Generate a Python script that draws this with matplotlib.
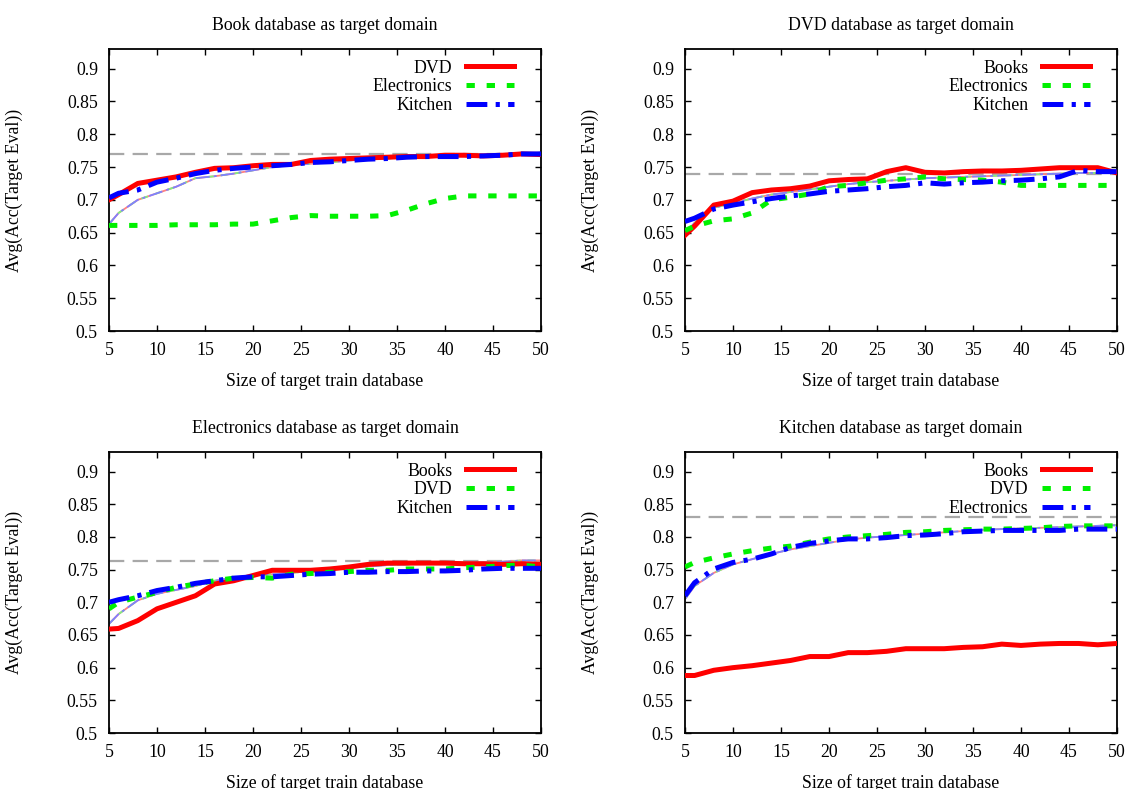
import matplotlib
matplotlib.use("Agg")
import matplotlib.pyplot as plt

plt.rcParams['font.family'] = ['Liberation Serif', 'DejaVu Serif']
plt.rcParams['lines.scale_dashes'] = False

x = [5, 6, 8, 10, 12, 14, 16, 18, 20, 22, 24, 26, 28, 30, 32, 34, 36, 38, 40, 42, 44, 46, 48, 50]

# ---- Book database as target domain ----
book_titles = "Book database as target domain"
book_labels = ["DVD", "Electronics", "Kitchen"]
book_ref = 0.77
book_s1 = [0.700, 0.708, 0.725, 0.730, 0.735, 0.742, 0.748, 0.749, 0.752, 0.754, 0.754, 0.760,
           0.762, 0.763, 0.764, 0.765, 0.766, 0.766, 0.768, 0.768, 0.767, 0.768, 0.770, 0.769]
book_s2 = [0.661, 0.661, 0.661, 0.661, 0.662, 0.662, 0.662, 0.663, 0.663, 0.668, 0.673, 0.676,
           0.675, 0.675, 0.675, 0.676, 0.684, 0.694, 0.702, 0.706, 0.706, 0.706, 0.706, 0.706]
book_s3 = [0.703, 0.710, 0.715, 0.727, 0.733, 0.740, 0.745, 0.748, 0.750, 0.752, 0.754, 0.757,
           0.758, 0.760, 0.762, 0.763, 0.765, 0.766, 0.766, 0.766, 0.767, 0.768, 0.770, 0.770]
book_base = [0.663, 0.680, 0.700, 0.710, 0.720, 0.733, 0.736, 0.740, 0.745, 0.750, 0.753, 0.755,
             0.757, 0.760, 0.762, 0.763, 0.765, 0.766, 0.767, 0.768, 0.768, 0.769, 0.771, 0.772]

# ---- DVD database as target domain ----
dvd_title = "DVD database as target domain"
dvd_labels = ["Books", "Electronics", "Kitchen"]
dvd_ref = 0.74
dvd_s1 = [0.646, 0.660, 0.692, 0.698, 0.711, 0.715, 0.717, 0.721, 0.729, 0.731, 0.732, 0.743,
          0.749, 0.742, 0.741, 0.743, 0.744, 0.744, 0.745, 0.747, 0.749, 0.749, 0.749, 0.741]
dvd_s2 = [0.653, 0.660, 0.668, 0.671, 0.680, 0.700, 0.704, 0.709, 0.720, 0.722, 0.726, 0.730,
          0.732, 0.735, 0.732, 0.731, 0.730, 0.727, 0.722, 0.722, 0.722, 0.722, 0.722, 0.722]
dvd_s3 = [0.667, 0.672, 0.686, 0.692, 0.697, 0.702, 0.706, 0.709, 0.713, 0.715, 0.717, 0.720,
          0.722, 0.726, 0.724, 0.726, 0.727, 0.729, 0.730, 0.732, 0.735, 0.745, 0.743, 0.743]
dvd_base = [0.648, 0.665, 0.688, 0.695, 0.702, 0.708, 0.712, 0.716, 0.720, 0.724, 0.727, 0.729,
            0.731, 0.733, 0.734, 0.735, 0.736, 0.737, 0.738, 0.739, 0.740, 0.741, 0.741, 0.742]

# ---- Electronics database as target domain ----
elec_title = "Electronics database as target domain"
elec_labels = ["Books", "DVD", "Kitchen"]
elec_ref = 0.763
elec_s1 = [0.659, 0.660, 0.672, 0.690, 0.700, 0.710, 0.728, 0.733, 0.741, 0.749, 0.749, 0.749,
           0.751, 0.754, 0.758, 0.760, 0.760, 0.760, 0.760, 0.759, 0.759, 0.758, 0.759, 0.758]
elec_s2 = [0.690, 0.700, 0.708, 0.715, 0.723, 0.728, 0.733, 0.737, 0.738, 0.737, 0.743, 0.744,
           0.746, 0.747, 0.749, 0.749, 0.751, 0.751, 0.751, 0.753, 0.754, 0.756, 0.757, 0.754]
elec_s3 = [0.700, 0.704, 0.710, 0.718, 0.723, 0.729, 0.733, 0.737, 0.739, 0.739, 0.741, 0.743,
           0.744, 0.746, 0.746, 0.747, 0.747, 0.748, 0.748, 0.749, 0.751, 0.752, 0.752, 0.752]
elec_base = [0.667, 0.682, 0.703, 0.713, 0.719, 0.725, 0.733, 0.738, 0.741, 0.743, 0.745, 0.748,
             0.751, 0.753, 0.755, 0.757, 0.758, 0.760, 0.760, 0.761, 0.761, 0.762, 0.764, 0.764]

# ---- Kitchen database as target domain ----
kit_title = "Kitchen database as target domain"
kit_labels = ["Books", "DVD", "Electronics"]
kit_ref = 0.83
kit_s1 = [0.588, 0.588, 0.596, 0.600, 0.603, 0.607, 0.611, 0.617, 0.617, 0.623, 0.623, 0.625,
          0.629, 0.629, 0.629, 0.631, 0.632, 0.636, 0.634, 0.636, 0.637, 0.637, 0.635, 0.637]
kit_s2 = [0.754, 0.761, 0.768, 0.774, 0.779, 0.783, 0.786, 0.792, 0.797, 0.800, 0.802, 0.804,
          0.807, 0.808, 0.810, 0.811, 0.812, 0.812, 0.813, 0.814, 0.816, 0.817, 0.817, 0.817]
kit_s3 = [0.710, 0.730, 0.751, 0.761, 0.766, 0.774, 0.784, 0.790, 0.794, 0.797, 0.797, 0.799,
          0.802, 0.803, 0.805, 0.808, 0.809, 0.810, 0.810, 0.810, 0.810, 0.812, 0.812, 0.812]
kit_base = [0.705, 0.725, 0.745, 0.758, 0.766, 0.774, 0.781, 0.786, 0.791, 0.796, 0.799, 0.801,
            0.803, 0.805, 0.807, 0.809, 0.811, 0.812, 0.813, 0.814, 0.815, 0.816, 0.817, 0.818]

xticks = [5, 10, 15, 20, 25, 30, 35, 40, 45, 50]
yticks = [0.5, 0.55, 0.6, 0.65, 0.7, 0.75, 0.8, 0.85, 0.9]
ytick_labels = ["0.5", "0.55", "0.6", "0.65", "0.7", "0.75", "0.8", "0.85", "0.9"]
xlabel = "Size of target train database"
ylabel = "Avg(Acc(Target Eval))"

panels = [
    (book_titles, book_labels, book_ref, book_s1, book_s2, book_s3, book_base),
    (dvd_title, dvd_labels, dvd_ref, dvd_s1, dvd_s2, dvd_s3, dvd_base),
    (elec_title, elec_labels, elec_ref, elec_s1, elec_s2, elec_s3, elec_base),
    (kit_title, kit_labels, kit_ref, kit_s1, kit_s2, kit_s3, kit_base),
]

W, H = 1130, 789
fig = plt.figure(figsize=(W / 100, H / 100), dpi=100)
boxes = [(109, 49, 541, 331), (685, 49, 1117, 331), (109, 452, 541, 733), (685, 452, 1117, 733)]

dash_green = (0, (6.0, 8.5))
dash_blue = (0, (15.0, 6.0, 3.0, 6.0))
FS = 12.8

for (title, labels, ref, s1, s2, s3, base), (l, t, r, b) in zip(panels, boxes):
    ax = fig.add_axes([l / W, 1 - b / H, (r - l) / W, (b - t) / H])
    ax.axhline(ref, color='#a8a8a8', lw=1.6, linestyle=(0, (11, 6)), zorder=1)
    ax.plot(x, base, color='#ff8080', lw=1.3, zorder=2)
    ax.plot(x, base, color='#80ee80', lw=1.3, linestyle=(0, (5, 5)), zorder=2)
    ax.plot(x, base, color='#8080ff', lw=1.3, linestyle=(0, (10, 3, 2, 3)), zorder=2)
    h1, = ax.plot(x, s1, color='#ff0000', lw=3.6, label=labels[0], zorder=3)
    h2, = ax.plot(x, s2, color='#00f000', lw=3.6, linestyle=dash_green, label=labels[1], zorder=3)
    h3, = ax.plot(x, s3, color='#0000ff', lw=3.6, linestyle=dash_blue, label=labels[2], zorder=3)
    ax.set_xlim(5, 50)
    ax.set_ylim(0.5, 0.93)
    ax.set_xticks(xticks)
    ax.set_yticks(yticks)
    ax.set_yticklabels(ytick_labels)
    ax.tick_params(direction='in', length=4.5, width=1, top=True, right=True, labelsize=FS)
    ax.tick_params(axis='x', pad=8)
    ax.tick_params(axis='y', pad=8)
    for sp in ax.spines.values():
        sp.set_linewidth(1.3)
    ax.set_title(title, fontsize=FS, pad=14)
    ax.set_xlabel(xlabel, fontsize=FS)
    ax.set_ylabel(ylabel, fontsize=FS)
    ax.xaxis.set_label_coords(0.5, -0.145)
    ax.yaxis.set_label_coords(-0.2, 0.5)
    ax.legend(handles=[h1, h2, h3], loc='upper right', bbox_to_anchor=(1 - 16 / 432, 1),
              frameon=False, markerfirst=False,
              fontsize=FS, handlelength=2.7, handletextpad=0.8, labelspacing=0.1,
              borderaxespad=0.3, borderpad=0.3)

fig.savefig("out.png", dpi=100)
